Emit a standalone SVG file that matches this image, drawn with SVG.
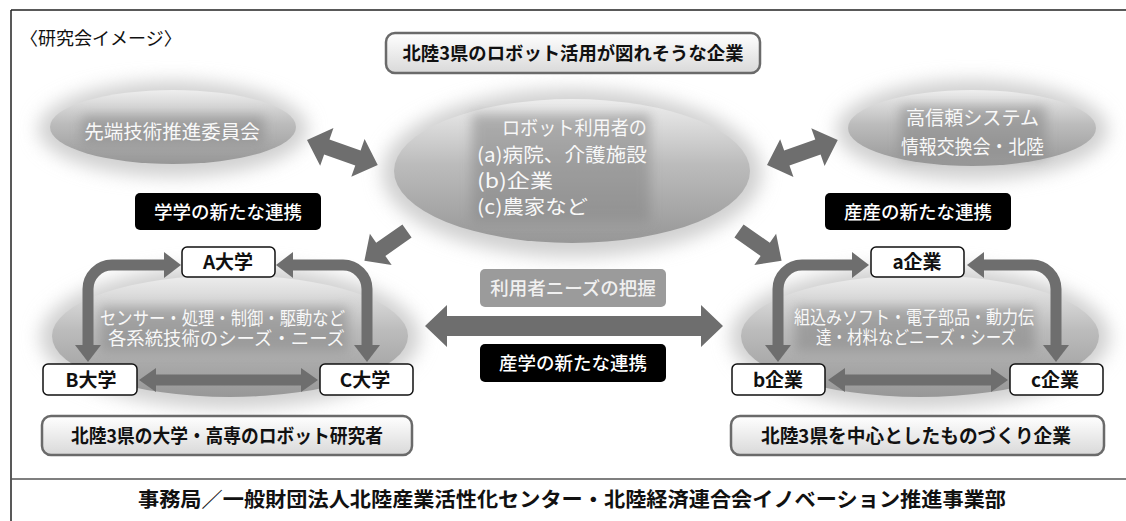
<svg xmlns="http://www.w3.org/2000/svg" width="1126" height="521" viewBox="0 0 1126 521">
<defs>
<linearGradient id="ellg" x1="0" y1="0" x2="0" y2="1">
<stop offset="0" stop-color="#eeeeee"/>
<stop offset="0.45" stop-color="#bcbcbc"/>
<stop offset="1" stop-color="#979797"/>
</linearGradient>
<linearGradient id="boxg" x1="0" y1="0" x2="0" y2="1">
<stop offset="0" stop-color="#ffffff"/>
<stop offset="1" stop-color="#d9d9d9"/>
</linearGradient>
<filter id="blur" x="-30%" y="-50%" width="160%" height="200%">
<feGaussianBlur stdDeviation="9"/>
</filter>
<filter id="blur2" x="-20%" y="-50%" width="140%" height="200%">
<feGaussianBlur stdDeviation="6"/>
</filter>
<style>
text{font-family:"Noto Sans CJK JP","Noto Sans",sans-serif;}
.halo{fill:#d0d0d0;filter:url(#blur);}
.ell{fill:url(#ellg);}
.band{fill:#858585;opacity:0.55;filter:url(#blur2);}
.et{fill:#f8f8f8;font-size:19.5px;text-anchor:middle;}
.el{fill:#f8f8f8;font-size:19.5px;}
.et2{fill:#f8f8f8;font-size:18.5px;text-anchor:middle;}
.lbl{fill:#000;}
.lt{fill:#fff;font-size:18.5px;text-anchor:middle;font-weight:500;}
.gbox{fill:url(#boxg);stroke:#6a6a6a;stroke-width:2.5;}
.bt{fill:#111;font-size:19px;font-weight:700;text-anchor:middle;}
.ubox{fill:#fff;stroke:#111;stroke-width:1.5;}
.ut{fill:#111;font-size:19px;font-weight:700;text-anchor:middle;}
.arr{fill:#6e6e6e;}
.cur{fill:none;stroke:#6e6e6e;stroke-width:11;}
</style>
</defs>
<rect x="0" y="0" width="1126" height="521" fill="#fff"/>
<g id="frame" stroke-width="1.5" fill="none">
<line x1="11" y1="10" x2="1126" y2="10" stroke="#222"/>
<line x1="11" y1="10" x2="11" y2="521" stroke="#222"/>
<line x1="11" y1="479" x2="1126" y2="479" stroke="#555"/>
</g>
<text x="20" y="45" font-size="18" fill="#111">〈研究会イメージ〉</text>

<g id="n-sentan">
<ellipse class="halo" cx="173" cy="129" rx="135" ry="48"/>
<ellipse class="ell" cx="173" cy="127" rx="123" ry="37"/>
<rect class="band" x="82" y="116" width="182" height="28"/>
<text class="et" x="172" y="139">先端技術推進委員会</text>
</g>
<g id="n-user">
<ellipse class="halo" cx="572" cy="173" rx="190" ry="84"/>
<ellipse class="ell" cx="572" cy="171" rx="178" ry="72"/>
<rect class="band" x="472" y="114" width="178" height="108"/>
<text class="el"><tspan x="502" y="135" textLength="145" lengthAdjust="spacingAndGlyphs">ロボット利用者の</tspan><tspan x="477" y="162" textLength="170" lengthAdjust="spacingAndGlyphs">(a)病院、介護施設</tspan><tspan x="477" y="188" textLength="76" lengthAdjust="spacingAndGlyphs">(b)企業</tspan><tspan x="477" y="214" textLength="111" lengthAdjust="spacingAndGlyphs">(c)農家など</tspan></text>
</g>
<g id="n-koshin">
<ellipse class="halo" cx="972" cy="130" rx="136" ry="50"/>
<ellipse class="ell" cx="972" cy="128" rx="124" ry="38"/>
<rect class="band" x="900" y="106" width="146" height="52"/>
<text class="el"><tspan x="906" y="125" textLength="133" lengthAdjust="spacingAndGlyphs">高信頼システム</tspan><tspan x="901" y="154" textLength="143" lengthAdjust="spacingAndGlyphs">情報交換会・北陸</tspan></text>
</g>
<g id="n-univ-area">
<ellipse class="halo" cx="230" cy="337" rx="190" ry="72"/>
<ellipse class="ell" cx="230" cy="336" rx="178" ry="61"/>
<rect class="band" x="100" y="307" width="248" height="44"/>
<text class="el" style="font-size:18.5px"><tspan x="100" y="325" textLength="245" lengthAdjust="spacingAndGlyphs">センサー・処理・制御・駆動など</tspan><tspan x="108" y="345" textLength="237" lengthAdjust="spacingAndGlyphs">各系統技術のシーズ・ニーズ</tspan></text>
</g>
<g id="n-corp-area">
<ellipse class="halo" cx="920" cy="337" rx="190" ry="72"/>
<ellipse class="ell" cx="920" cy="336" rx="179" ry="61"/>
<rect class="band" x="795" y="307" width="240" height="44"/>
<text class="el" style="font-size:18.5px"><tspan x="794" y="324" textLength="240" lengthAdjust="spacingAndGlyphs">組込みソフト・電子部品・動力伝</tspan><tspan x="816" y="344" textLength="200" lengthAdjust="spacingAndGlyphs">達・材料などニーズ・シーズ</tspan></text>
</g>

<g id="connectors">
<polygon class="arr" transform="translate(307,140) rotate(19.4)" points="0,0 21,-20 21,-8 54,-8 54,-20 75,0 54,20 54,8 21,8 21,20"/>
<polygon class="arr" transform="translate(767,165) rotate(-19.4)" points="0,0 21,-20 21,-8 54,-8 54,-20 75,0 54,20 54,8 21,8 21,20"/>
<polygon class="arr" transform="translate(407,231) rotate(145)" points="0,-8 32,-8 32,-19 52,0 32,19 32,8 0,8"/>
<polygon class="arr" transform="translate(739,231) rotate(35)" points="0,-8 32,-8 32,-19 52,0 32,19 32,8 0,8"/>
<polygon class="arr" transform="translate(425,326)" points="0,0 22,-21 22,-10 276,-10 276,-21 298,0 276,21 276,10 22,10 22,21"/>
<path class="cur" d="M166 265 H112 A24 24 0 0 0 88 289 V348"/>
<polygon class="arr" points="181,265 164,252 164,278"/>
<polygon class="arr" points="88,362 75,345 101,345"/>
<path class="cur" d="M292 265 H343 A24 24 0 0 1 367 289 V348"/>
<polygon class="arr" points="276,265 293,252 293,278"/>
<polygon class="arr" points="367,362 354,345 380,345"/>
<polygon class="arr" transform="translate(139,380)" points="0,0 17,-12 17,-5.5 162,-5.5 162,-12 179,0 162,12 162,5.5 17,5.5 17,12"/>
<path class="cur" d="M854 265 H802 A24 24 0 0 0 778 289 V348"/>
<polygon class="arr" points="869,265 852,252 852,278"/>
<polygon class="arr" points="778,362 765,345 791,345"/>
<path class="cur" d="M983 265 H1032 A24 24 0 0 1 1056 289 V348"/>
<polygon class="arr" points="967,265 984,252 984,278"/>
<polygon class="arr" points="1056,362 1043,345 1069,345"/>
<polygon class="arr" transform="translate(828,380)" points="0,0 17,-12 17,-5.5 163,-5.5 163,-12 180,0 163,12 163,5.5 17,5.5 17,12"/>
</g>

<g id="n-title">
<rect class="gbox" x="386" y="33" width="374" height="40" rx="9"/>
<text class="bt" x="573" y="60" style="font-size:18.5px" textLength="341" lengthAdjust="spacingAndGlyphs">北陸3県のロボット活用が図れそうな企業</text>
</g>
<g id="n-gakugaku">
<rect class="lbl" x="135" y="193" width="186" height="37" rx="5"/>
<text class="lt" x="228" y="219">学学の新たな連携</text>
</g>
<g id="n-sansan">
<rect class="lbl" x="825" y="193" width="186" height="37" rx="5"/>
<text class="lt" x="918" y="219">産産の新たな連携</text>
</g>
<g id="n-needs">
<rect x="480" y="269" width="186" height="38" rx="5" fill="#9b9b9b"/>
<text class="lt" x="573" y="295" style="fill:#f0f0f0">利用者ニーズの把握</text>
</g>
<g id="n-sangaku">
<rect class="lbl" x="480" y="344" width="186" height="38" rx="5"/>
<text class="lt" x="573" y="370">産学の新たな連携</text>
</g>

<g id="n-A">
<rect class="ubox" x="182" y="247" width="93" height="30" rx="5"/>
<text class="ut" x="228" y="269">A大学</text>
</g>
<g id="n-B">
<rect class="ubox" x="43" y="364" width="94" height="31" rx="5"/>
<text class="ut" x="91" y="387">B大学</text>
</g>
<g id="n-C">
<rect class="ubox" x="320" y="364" width="93" height="31" rx="5"/>
<text class="ut" x="365" y="387">C大学</text>
</g>
<g id="n-a">
<rect class="ubox" x="871" y="247" width="93" height="30" rx="5"/>
<text class="ut" x="917" y="269">a企業</text>
</g>
<g id="n-b">
<rect class="ubox" x="732" y="364" width="93" height="31" rx="5"/>
<text class="ut" x="778" y="387">b企業</text>
</g>
<g id="n-c">
<rect class="ubox" x="1010" y="364" width="93" height="31" rx="5"/>
<text class="ut" x="1055" y="387">c企業</text>
</g>

<g id="n-researchers">
<rect class="gbox" x="42" y="416" width="370" height="39" rx="9"/>
<text class="bt" x="227" y="443" textLength="312" lengthAdjust="spacingAndGlyphs">北陸3県の大学・高専のロボット研究者</text>
</g>
<g id="n-monozukuri">
<rect class="gbox" x="731" y="416" width="373" height="39" rx="9"/>
<text class="bt" x="916" y="443" textLength="310" lengthAdjust="spacingAndGlyphs">北陸3県を中心としたものづくり企業</text>
</g>

<text x="572" y="507" font-size="20.5" font-weight="700" text-anchor="middle" fill="#111" textLength="868" lengthAdjust="spacingAndGlyphs">事務局／一般財団法人北陸産業活性化センター・北陸経済連合会イノベーション推進事業部</text>
</svg>
